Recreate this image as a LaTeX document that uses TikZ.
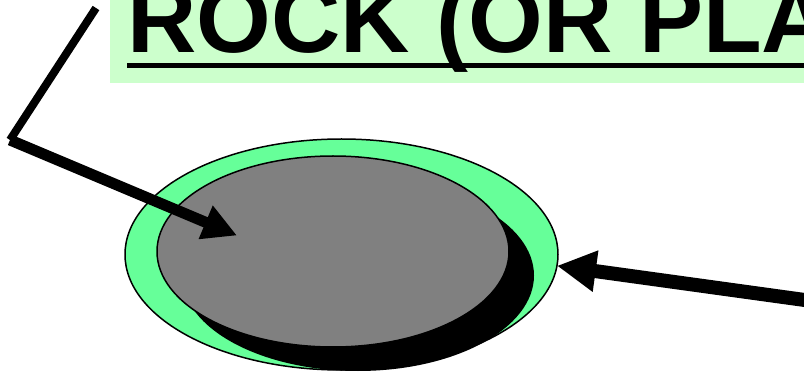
\documentclass[tikz,border=0pt]{standalone}
\usepackage{fontspec}
\setmainfont{Liberation Sans}
\usetikzlibrary{arrows.meta,shapes.geometric}
\definecolor{titlebg}{HTML}{CCFFCC}
\definecolor{rimgreen}{HTML}{66FF99}
\begin{document}
\begin{tikzpicture}[x=1pt,y=-1pt,
        plate/.style={ellipse,draw,line width=1.5pt,inner sep=0pt,outer sep=0pt},
        thinarrow/.style={line width=11pt,-{Triangle[length=34pt,width=34pt]}},
        thickarrow/.style={line width=14pt,-{Triangle[length=39pt,width=39pt]}}]
    \useasboundingbox (0,0) rectangle (804,374);
    \clip (0,0) rectangle (804,374);
    % title bar, cut off at the top and right
    \fill [titlebg] (110,-5) rectangle (810,83);
    \node [anchor=base west,inner sep=0pt,font=\bfseries\fontsize{96}{96}\selectfont] (title) at (127,53) {ROCK (OR PLA};
    \draw [line width=4.5pt] ([yshift=-12.5pt]title.base west) -- ([yshift=-12.5pt]title.base east);
    % plate with rock on top
    \node [plate,fill=rimgreen,minimum width=433pt,minimum height=231pt] (rim) at (341.5,254.5) {};
    \node [ellipse,fill=black,inner sep=0pt,minimum width=352pt,minimum height=191pt] (shadow) at (358,275.5) {};
    \node [plate,fill=gray,minimum width=352pt,minimum height=191pt] (rock) at (333,251.5) {};
    % pointers
    \coordinate (hook) at (96,8);
    \coordinate (bend) at (10,140);
    \coordinate (target) at (237,235.5);
    \coordinate (tail) at (830,303.5);
    \draw [line width=8pt] (hook) -- (bend);
    \draw [thinarrow] (bend) -- (target);
    \draw [thickarrow] (tail) -- (rim.-3.6);
\end{tikzpicture}
\end{document}
